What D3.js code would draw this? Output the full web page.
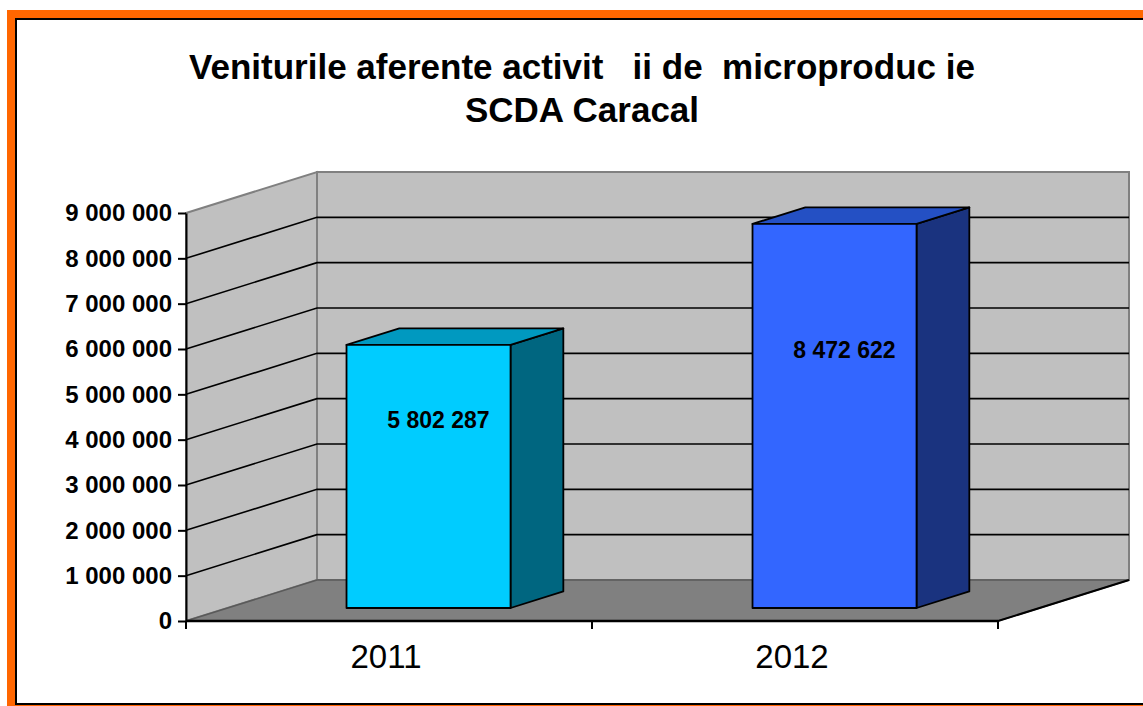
<!DOCTYPE html>
<html>
<head>
<meta charset="utf-8">
<script src="https://cdn.jsdelivr.net/npm/d3@7"></script>
<style>
  body { margin: 0; background: #fff; }
  svg { display: block; font-family: "Liberation Sans", Arial, sans-serif; }
</style>
</head>
<body>
<script>
// chart data
const years = ['2011', '2012'];
const values = [5802287, 8472622];
const yTicks = [0, 1e6, 2e6, 3e6, 4e6, 5e6, 6e6, 7e6, 8e6, 9e6];
const titleLines = ['Veniturile aferente activit   ii de  microproduc ie', 'SCDA Caracal'];

// bar shades: front, top, side
const frontColors = ['#00CCFF', '#3366FF'];
const topColors = ['#0099C0', '#2450C4'];
const sideColors = ['#006680', '#1A337F'];

const W = 1143, H = 706;
const x0 = 186, x1 = 998, y0 = 621, yTop = 213;
const depthX = 131, depthY = 41;
const barD0 = 0.317, barD1 = 0.72;

const svg = d3.select('body').append('svg')
    .attr('width', W)
    .attr('height', H);

// frame
svg.append('rect')
    .attr('x', 7).attr('y', 10)
    .attr('width', W + 20).attr('height', H + 20)
    .attr('fill', '#FF6600');
svg.append('rect')
    .attr('x', 16).attr('y', 19)
    .attr('width', W + 10).attr('height', 685)
    .attr('fill', '#fff')
    .attr('stroke', '#000')
    .attr('stroke-width', 2);

// title
svg.append('g').selectAll('text')
  .data(titleLines)
  .enter()
  .append('text')
    .attr('x', 582)
    .attr('y', (d, i) => 79 + i * 43)
    .attr('text-anchor', 'middle')
    .style('white-space', 'pre')
    .attr('font-size', 35)
    .attr('font-weight', 'bold')
    .text(d => d);

// scales
const y = d3.scaleLinear().domain([0, 9e6]).range([y0, yTop]);
const x = d3.scaleBand().domain(years).range([x0, x1])
    .paddingInner(0.596).paddingOuter(0.298);

const proj = (px, py, d) => [px + d * depthX, py - d * depthY];
const poly = pts => pts.map(p => p.join(',')).join(' ');

// walls and floor
const yMax = y(9e6), yMin = y(0);
svg.append('polygon')
    .attr('points', poly([proj(x0, yMax, 1), proj(x1, yMax, 1), proj(x1, yMin, 1), proj(x0, yMin, 1)]))
    .attr('fill', '#C0C0C0').attr('stroke', '#808080').attr('stroke-width', 2);
svg.append('polygon')
    .attr('points', poly([[x0, yMax], proj(x0, yMax, 1), proj(x0, yMin, 1), [x0, yMin]]))
    .attr('fill', '#C0C0C0').attr('stroke', '#808080').attr('stroke-width', 2);
svg.append('polygon')
    .attr('points', poly([[x0, yMin], [x1, yMin], proj(x1, yMin, 1), proj(x0, yMin, 1)]))
    .attr('fill', '#808080').attr('stroke', '#5a5a5a').attr('stroke-width', 1.5);

// gridlines on left and back walls
const grid = svg.append('g').attr('stroke', '#000').attr('stroke-width', 1.6).attr('fill', 'none');
yTicks.filter(v => v > 0 && v < 9e6).forEach(v => {
  grid.append('polyline')
      .attr('points', poly([[x0, y(v)], proj(x0, y(v), 1), proj(x1, y(v), 1)]));
});

// right floor edge
svg.append('line')
    .attr('x1', x1).attr('y1', yMin)
    .attr('x2', proj(x1, yMin, 1)[0]).attr('y2', proj(x1, yMin, 1)[1])
    .attr('stroke', '#000').attr('stroke-width', 2);

// bars
const bw = x.bandwidth();
years.forEach((yr, i) => {
  const xa = x(yr) - 2, xb = xa + bw, v = values[i];
  const g = svg.append('g').attr('stroke', '#000').attr('stroke-width', 1.8).attr('stroke-linejoin', 'round');
  g.append('polygon')
      .attr('points', poly([proj(xb, y(0), barD0), proj(xb, y(v), barD0), proj(xb, y(v), barD1), proj(xb, y(0), barD1)]))
      .attr('fill', sideColors[i]);
  g.append('polygon')
      .attr('points', poly([proj(xa, y(v), barD0), proj(xb, y(v), barD0), proj(xb, y(v), barD1), proj(xa, y(v), barD1)]))
      .attr('fill', topColors[i]);
  g.append('polygon')
      .attr('points', poly([proj(xa, y(0), barD0), proj(xb, y(0), barD0), proj(xb, y(v), barD0), proj(xa, y(v), barD0)]))
      .attr('fill', frontColors[i]);

  // value label
  const lp = proj(xa + 2 + bw / 2, y(v * 0.58) - 31, barD0 + 0.06);
  svg.append('text')
      .attr('x', lp[0])
      .attr('y', lp[1])
      .attr('text-anchor', 'middle')
      .attr('dominant-baseline', 'middle')
      .attr('font-size', 23)
      .attr('font-weight', 'bold')
      .text(d3.format(',')(v).replace(/,/g, ' '));
});

// y axis
const yAxis = d3.axisLeft(y)
    .tickValues(yTicks)
    .tickSize(8)
    .tickSizeOuter(0)
    .tickPadding(6)
    .tickFormat(d => d3.format(',')(d).replace(/,/g, ' '));
const yg = svg.append('g')
    .attr('transform', `translate(${x0},0)`)
    .call(yAxis);
yg.selectAll('path, line').attr('stroke', '#000').attr('stroke-width', 2);
yg.selectAll('text')
    .attr('font-family', '"Liberation Sans", Arial, sans-serif')
    .attr('font-size', 24)
    .attr('font-weight', 'bold')
    .attr('fill', '#000');

// x axis
svg.append('line')
    .attr('x1', x0).attr('y1', yMin).attr('x2', x1).attr('y2', yMin)
    .attr('stroke', '#000').attr('stroke-width', 2.5);
svg.append('g').selectAll('line')
  .data(d3.range(years.length + 1).map(i => x0 + i * x.step()))
  .enter()
  .append('line')
    .attr('x1', d => d).attr('x2', d => d)
    .attr('y1', yMin).attr('y2', yMin + 8)
    .attr('stroke', '#000').attr('stroke-width', 2);
svg.append('g').selectAll('text')
  .data(years)
  .enter()
  .append('text')
    .attr('x', d => x(d) + bw / 2 - 3)
    .attr('y', 668)
    .attr('text-anchor', 'middle')
    .attr('font-size', 33)
    .text(d => d);
</script>
</body>
</html>
